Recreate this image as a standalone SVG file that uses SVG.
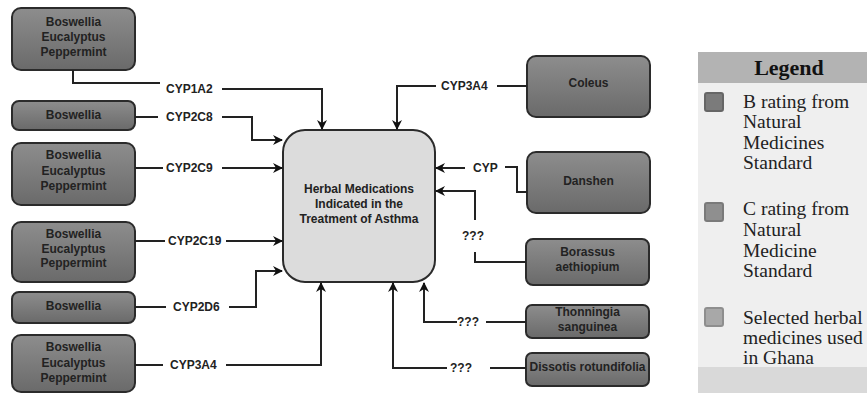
<svg xmlns="http://www.w3.org/2000/svg" width="867" height="394" viewBox="0 0 867 394">
<style>
.node{fill:url(#g);stroke:#2b2b2b;stroke-width:2}
.t{font-family:"Liberation Sans",Arial,sans-serif;font-weight:bold;font-size:12px;fill:#222;text-anchor:middle}
.lbl{font-family:"Liberation Sans",Arial,sans-serif;font-weight:bold;font-size:12px;fill:#222}
.c{fill:none;stroke:#222;stroke-width:2}
.lg{font-family:"Liberation Serif","Times New Roman",serif;font-size:19.5px;fill:#222}
</style>
<defs>
<linearGradient id="g" x1="0" y1="0" x2="0" y2="1">
<stop offset="0" stop-color="#8d8d8d"/>
<stop offset="1" stop-color="#6a6a6a"/>
</linearGradient>
<marker id="a" markerWidth="10" markerHeight="10" refX="9" refY="5" orient="auto" markerUnits="userSpaceOnUse">
<path d="M0,0 L10,5 L0,10 L3,5 Z" fill="#111"/>
</marker>
</defs>

<g id="center">
<rect x="283" y="130" width="152" height="152" rx="22" fill="#dcdcdc" stroke="#2b2b2b" stroke-width="2"/>
<text class="t" x="359" y="193">Herbal Medications</text>
<text class="t" x="359" y="208">Indicated in the</text>
<text class="t" x="359" y="223">Treatment of Asthma</text>
</g>

<g id="n1"><rect class="node" x="12" y="8" width="123" height="62" rx="9"/>
<text class="t" x="73.5" y="26">Boswellia</text><text class="t" x="73.5" y="41">Eucalyptus</text><text class="t" x="73.5" y="56">Peppermint</text></g>
<g id="n2"><rect class="node" x="12" y="101" width="123" height="29" rx="7"/>
<text class="t" x="73.5" y="119">Boswellia</text></g>
<g id="n3"><rect class="node" x="12" y="143" width="123" height="62" rx="9"/>
<text class="t" x="73.5" y="159">Boswellia</text><text class="t" x="73.5" y="175">Eucalyptus</text><text class="t" x="73.5" y="190">Peppermint</text></g>
<g id="n4"><rect class="node" x="12" y="222" width="123" height="60" rx="9"/>
<text class="t" x="73.5" y="238">Boswellia</text><text class="t" x="73.5" y="253">Eucalyptus</text><text class="t" x="73.5" y="267">Peppermint</text></g>
<g id="n5"><rect class="node" x="12" y="292" width="123" height="31" rx="7"/>
<text class="t" x="73.5" y="310">Boswellia</text></g>
<g id="n6"><rect class="node" x="12" y="335" width="123" height="57" rx="9"/>
<text class="t" x="73.5" y="351">Boswellia</text><text class="t" x="73.5" y="367">Eucalyptus</text><text class="t" x="73.5" y="382">Peppermint</text></g>

<g id="coleus"><rect class="node" x="527" y="56" width="123" height="61" rx="9"/>
<text class="t" x="588.5" y="87">Coleus</text></g>
<g id="danshen"><rect class="node" x="527" y="152" width="123" height="61" rx="9"/>
<text class="t" x="588.5" y="185">Danshen</text></g>
<g id="borassus"><rect class="node" x="526" y="239" width="123" height="46" rx="7"/>
<text class="t" x="587.5" y="256">Borassus</text><text class="t" x="587.5" y="271">aethiopium</text></g>
<g id="thonningia"><rect class="node" x="526" y="305" width="123" height="33" rx="6"/>
<text class="t" x="587.5" y="316">Thonningia</text><text class="t" x="587.5" y="331">sanguinea</text></g>
<g id="dissotis"><rect class="node" x="526" y="353" width="123" height="33" rx="6"/>
<text class="t" x="587.5" y="371">Dissotis rotundifolia</text></g>

<g id="connectors">
<polyline class="c" points="73,70 73,83 160,83"/>
<polyline class="c" points="222,89 322,89 322,129" marker-end="url(#a)"/>
<text class="lbl" x="166" y="93">CYP1A2</text>

<polyline class="c" points="135,117 158,117"/>
<polyline class="c" points="222,117 252,117 252,140 282,140" marker-end="url(#a)"/>
<text class="lbl" x="166" y="121">CYP2C8</text>

<polyline class="c" points="135,168 163,168"/>
<polyline class="c" points="222,168 282,168" marker-end="url(#a)"/>
<text class="lbl" x="166" y="172">CYP2C9</text>

<polyline class="c" points="135,241 165,241"/>
<polyline class="c" points="226,241 282,241" marker-end="url(#a)"/>
<text class="lbl" x="168" y="245">CYP2C19</text>

<polyline class="c" points="135,307 166,307"/>
<polyline class="c" points="229,307 256,307 256,271 282,271" marker-end="url(#a)"/>
<text class="lbl" x="173" y="311">CYP2D6</text>

<polyline class="c" points="135,365 163,365"/>
<polyline class="c" points="226,365 321,365 321,283" marker-end="url(#a)"/>
<text class="lbl" x="170" y="369">CYP3A4</text>

<polyline class="c" points="527,86 497,86"/>
<polyline class="c" points="436,86 397,86 397,129" marker-end="url(#a)"/>
<text class="lbl" x="441" y="90">CYP3A4</text>

<polyline class="c" points="465,168 436,168" marker-end="url(#a)"/>
<polyline class="c" points="505,167 517,167 517,192 527,192"/>
<text class="lbl" x="473" y="172">CYP</text>

<polyline class="c" points="475,220 475,191 436,191" marker-end="url(#a)"/>
<polyline class="c" points="475,252 475,262 526,262"/>
<text class="lbl" x="462" y="240">???</text>

<polyline class="c" points="526,322 486,322"/>
<polyline class="c" points="457,322 424,322 424,283" marker-end="url(#a)"/>
<text class="lbl" x="457" y="326">???</text>

<polyline class="c" points="526,368 490,368"/>
<polyline class="c" points="447,368 393,368 393,283" marker-end="url(#a)"/>
<text class="lbl" x="450" y="372">???</text>
</g>

<g id="legend">
<rect x="698" y="52" width="169" height="315" fill="#efefef"/>
<rect x="698" y="52" width="169" height="31" fill="#b3b3b3"/>
<rect x="698" y="367" width="169" height="26" fill="#d9d9d9"/>
<text x="789" y="75" font-family="'Liberation Serif','Times New Roman',serif" font-weight="bold" font-size="22px" fill="#111" text-anchor="middle">Legend</text>
<rect x="705" y="93" width="18" height="18" rx="2" fill="#7b7b7b" stroke="#666" stroke-width="2"/>
<text class="lg" x="743" y="108">B rating from</text>
<text class="lg" x="743" y="128">Natural</text>
<text class="lg" x="743" y="149">Medicines</text>
<text class="lg" x="743" y="169">Standard</text>
<rect x="705" y="203" width="18" height="18" rx="2" fill="#8f8f8f" stroke="#7a7a7a" stroke-width="2"/>
<text class="lg" x="743" y="215">C rating from</text>
<text class="lg" x="743" y="236">Natural</text>
<text class="lg" x="743" y="257">Medicine</text>
<text class="lg" x="743" y="277">Standard</text>
<rect x="705" y="308" width="18" height="18" rx="2" fill="#a8a8a8" stroke="#8e8e8e" stroke-width="2"/>
<text class="lg" x="743" y="324">Selected herbal</text>
<text class="lg" x="743" y="344">medicines used</text>
<text class="lg" x="743" y="364">in Ghana</text>
</g>
</svg>
